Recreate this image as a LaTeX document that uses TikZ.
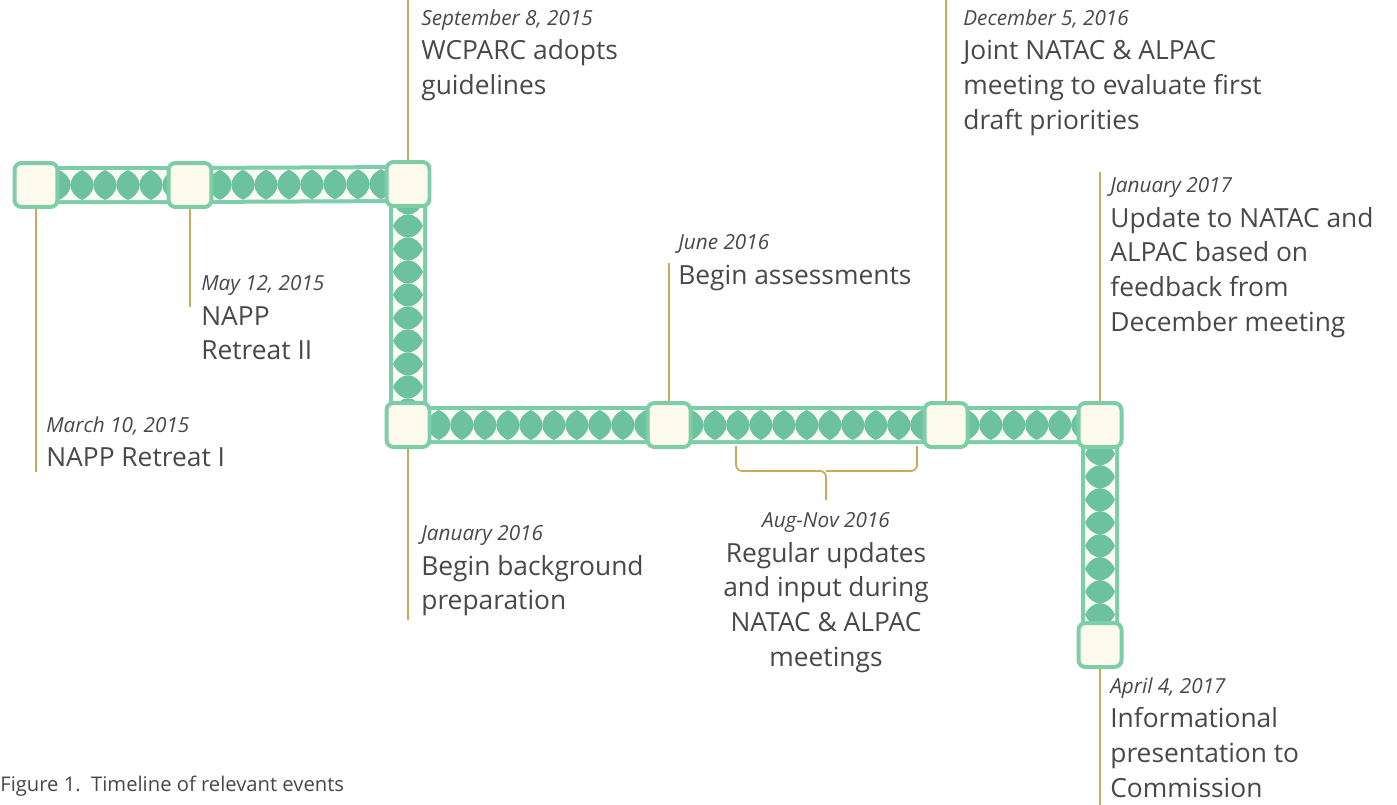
\documentclass[tikz,border=0pt]{standalone}
\usepackage{fontspec}
\setmainfont{Open Sans}
\usetikzlibrary{backgrounds,decorations.markings}
\definecolor{bargreen}{RGB}{125,205,168}
\definecolor{lensgreen}{RGB}{108,194,158}
\definecolor{boxcream}{RGB}{255,250,238}
\definecolor{barfill}{RGB}{250,251,244}
\definecolor{stemgold}{RGB}{205,170,90}
\definecolor{txtgray}{RGB}{72,72,72}
\newcommand{\mainsize}{\fontsize{15}{19.8}\selectfont}
\newcommand{\datesize}{\fontsize{11.8}{19.8}\selectfont\itshape}
\tikzset{
  stone/.style={draw=bargreen, fill=boxcream, line width=0.08cm, rounded corners=0.14cm,
    minimum width=0.86cm, minimum height=0.88cm, inner sep=0pt},
  band/.style={draw=bargreen, line width=0.08cm, double=barfill, double distance=0.6cm,
    postaction={decorate},
    decoration={markings, mark=between positions 0 and 1 step 0.46cm with
      {\fill[lensgreen] (0cm,-0.3cm) .. controls (0.31cm,-0.15cm) and (0.31cm,0.15cm) .. (0cm,0.3cm)
         .. controls (-0.31cm,0.15cm) and (-0.31cm,-0.15cm) .. (0cm,-0.3cm);}}},
  stem/.style={draw=stemgold, line width=0.035cm},
  event/.style={anchor=north west, align=left, inner sep=0pt, text=txtgray, font=\mainsize},
}
\begin{document}
\begin{tikzpicture}[x=0.02cm,y=-0.02cm]
\useasboundingbox (0,0) rectangle (1397,805);
% milestones
\node[stone] (mar15) at (36,185) {};
\node[stone] (may15) at (190,185) {};
\node[stone] (sep15) at (408,184) {};
\node[stone] (jan16) at (408,425) {};
\node[stone] (jun16) at (669,425) {};
\node[stone] (dec16) at (946,425) {};
\node[stone] (jan17) at (1100,425) {};
\node[stone] (apr17) at (1100,645) {};
% the band behind them
\begin{scope}[on background layer]
\draw[band] (mar15.center) -- (may15.center) -- (sep15.center) -- (jan16.center)
  -- (jun16.center) -- (dec16.center) -- (jan17.center) -- (apr17.center);
\end{scope}
% stems
\draw[stem] (mar15.south) -- (36,472);
\draw[stem] (may15.south) -- (190,307);
\draw[stem] (sep15.north) -- (408,0);
\draw[stem] (jan16.south) -- (408,620);
\draw[stem] (jun16.north) -- (669,263);
\draw[stem] (dec16.north) -- (946,0);
\draw[stem] (jan17.north) -- (1100,172);
\draw[stem] (apr17.south) -- (1100,805);
% brace under Aug-Nov
\draw[stem, rounded corners=0.12cm] (736,446) -- (736,471) -- (826,471) -- (826,500);
\draw[stem, rounded corners=0.12cm] (917,446) -- (917,471) -- (826,471);
% labels
\node[event] (t-mar15) at (46,416) {{\datesize March 10, 2015}\\NAPP Retreat I};
\node[event] (t-may15) at (201,275) {{\datesize May 12, 2015}\\NAPP\\Retreat II};
\node[event] (t-sep15) at (421,9) {{\datesize September 8, 2015}\\WCPARC adopts\\guidelines};
\node[event] (t-jan16) at (421,525) {{\datesize January 2016}\\Begin background\\preparation};
\node[event] (t-jun16) at (678,234) {{\datesize June 2016}\\Begin assessments};
\node[event, anchor=north, align=center] (t-aug16) at (826,512)
  {{\datesize Aug-Nov 2016}\\Regular updates\\and input during\\NATAC \& ALPAC\\meetings};
\node[event] (t-dec16) at (963,9) {{\datesize December 5, 2016}\\Joint NATAC \& ALPAC\\meeting to evaluate first\\draft priorities};
\node[event] (t-jan17) at (1110,177) {{\datesize January 2017}\\Update to NATAC and\\ALPAC based on\\feedback from\\December meeting};
\node[event] (t-apr17) at (1110,677) {{\datesize April 4, 2017}\\Informational\\presentation to\\Commission};
\node[anchor=west, inner sep=0pt, text=txtgray, font=\fontsize{11.5}{14}\selectfont] (caption)
  at (0,786) {Figure 1.\ \ Timeline of relevant events};
\end{tikzpicture}
\end{document}
